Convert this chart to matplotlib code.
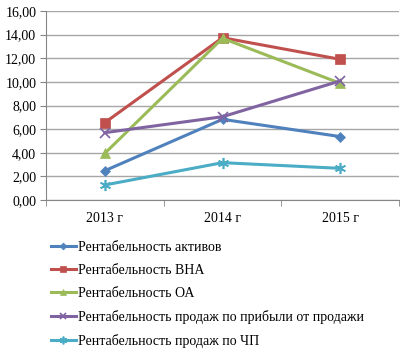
import matplotlib.pyplot as plt
from matplotlib.ticker import FuncFormatter, FixedLocator

plt.rcParams['font.family'] = ['Liberation Serif', 'DejaVu Serif']

years = ['2013 г', '2014 г', '2015 г']
roa = [2.48, 6.83, 5.37]         # Рентабельность активов
vna = [6.55, 13.74, 11.91]       # Рентабельность ВНА
oa = [3.95, 13.69, 9.88]         # Рентабельность ОА
sales_profit = [5.70, 7.05, 10.08]
sales_np = [1.27, 3.16, 2.68]

labels = ['Рентабельность активов', 'Рентабельность ВНА', 'Рентабельность ОА',
          'Рентабельность продаж по прибыли от продажи', 'Рентабельность продаж по ЧП']
colors = ['#4F81BD', '#C0504D', '#9BBB59', '#8064A2', '#4BACC6']

fig = plt.figure(figsize=(4.05, 3.48), dpi=100)
ax = fig.add_axes([46/405, 1 - 200/348, 353/405, 189/348])

x = range(len(years))
series = [roa, vna, oa, sales_profit, sales_np]
markers = ['D', 's', '^', 'x', (6, 2, 0)]
msizes = [5, 7, 7, 7, 8]
for s, lab, c, m, ms in zip(series, labels, colors, markers, msizes):
    ax.plot(x, s, color=c, lw=2.2, marker=m, markersize=ms, label=lab,
            markeredgewidth=1.2 if m in ('x', (6, 2, 0)) else 0.5)

ax.set_xlim(-0.5, 2.5)
ax.set_ylim(0, 16)
ax.set_yticks(range(0, 17, 2))
ax.yaxis.set_major_formatter(FuncFormatter(lambda v, p: f'{v:.2f}'.replace('.', ',')))
ax.set_xticks(list(x))
ax.set_xticklabels(years)
ax.xaxis.set_minor_locator(FixedLocator([-0.5, 0.5, 1.5, 2.5]))
ax.tick_params(axis='x', which='major', length=0, pad=9, labelsize=10)
ax.tick_params(axis='x', which='minor', length=4, color='#868686')
ax.tick_params(axis='y', length=4, color='#868686', labelsize=10, pad=3)

ax.grid(axis='y', color='#A6A6A6', lw=1)
ax.set_axisbelow(True)
for side in ['top', 'right']:
    ax.spines[side].set_visible(False)
for side in ['left', 'bottom']:
    ax.spines[side].set_color('#868686')

fig.legend(loc='upper left', bbox_to_anchor=(45/405, 1 - 235/348), frameon=False,
           fontsize=10, handlelength=1.8, handletextpad=0.15, labelspacing=0.72,
           markerscale=0.7, borderaxespad=0)

fig.savefig('out.png', dpi=100)
